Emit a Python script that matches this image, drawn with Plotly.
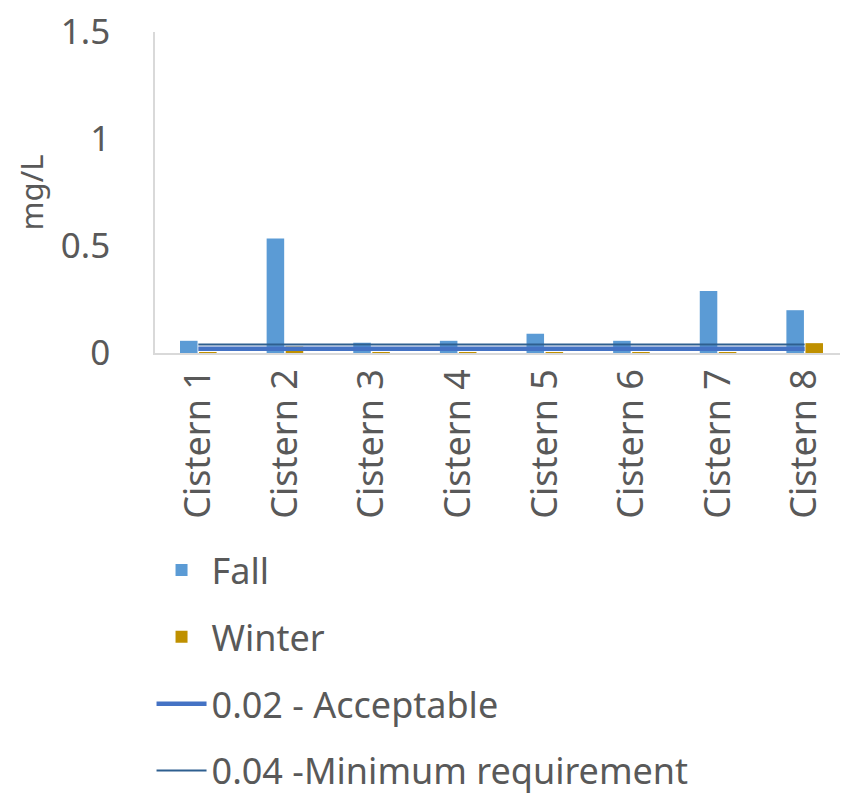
import plotly.graph_objects as go

categories = ["Cistern 1", "Cistern 2", "Cistern 3", "Cistern 4",
              "Cistern 5", "Cistern 6", "Cistern 7", "Cistern 8"]
fall = [0.057, 0.535, 0.048, 0.057, 0.09, 0.057, 0.29, 0.2]
winter = [0.004, 0.03, 0.004, 0.004, 0.004, 0.004, 0.004, 0.046]
acceptable = [0.02] * 8
minimum = [0.04] * 8
y_ticks = [0, 0.5, 1, 1.5]
y_tick_labels = ["0", "0.5", "1", "1.5"]

FONT = "Noto Sans"
GREY = "#595959"

fig = go.Figure()
fig.add_trace(go.Bar(x=categories, y=fall, name="Fall", marker_color="#5B9BD5",
                     marker_line_width=0, legendgroup="a"))
fig.add_trace(go.Bar(x=categories, y=winter, name="Winter", marker_color="#BF9000",
                     marker_line_width=0, legendgroup="b"))
fig.add_trace(go.Scatter(x=categories, y=acceptable, name="0.02 - Acceptable",
                         mode="lines", line=dict(color="#4472C4", width=4.5),
                         legendgroup="c"))
fig.add_trace(go.Scatter(x=categories, y=minimum, name="0.04 -Minimum requirement",
                         mode="lines", line=dict(color="#2E5F8F", width=2),
                         legendgroup="d"))

fig.update_layout(
    width=848, height=794,
    margin=dict(l=147, r=8, t=24, b=449, autoexpand=False),
    paper_bgcolor="white", plot_bgcolor="white",
    font=dict(family=FONT, color=GREY, size=36),
    barmode="group", bargap=0.56, bargroupgap=0.08,
    showlegend=True,
    legend=dict(orientation="v", x=-0.005, xanchor="left", y=-0.583, yanchor="top",
                font=dict(size=36, color=GREY, family=FONT),
                tracegroupgap=17, itemwidth=50, traceorder="grouped"),
    xaxis=dict(type="category", range=[-0.5, 7.5], tickangle=-90,
               showline=True, linecolor="#D9D9D9", linewidth=1.5,
               ticks="", showgrid=False,
               tickfont=dict(size=36, color=GREY, family=FONT)),
    yaxis=dict(range=[0, 1.5], tickvals=y_ticks, ticktext=y_tick_labels,
               showline=True, linecolor="#D9D9D9", linewidth=1.5,
               ticks="", showgrid=False, zeroline=False,
               ticklabelstandoff=36, ticklabeloverflow="allow",
               tickfont=dict(size=35, color=GREY, family=FONT),
               title=dict(text="mg/L", font=dict(size=31, color=GREY, family=FONT),
                          standoff=8)),
)

fig.write_html("out.html")
